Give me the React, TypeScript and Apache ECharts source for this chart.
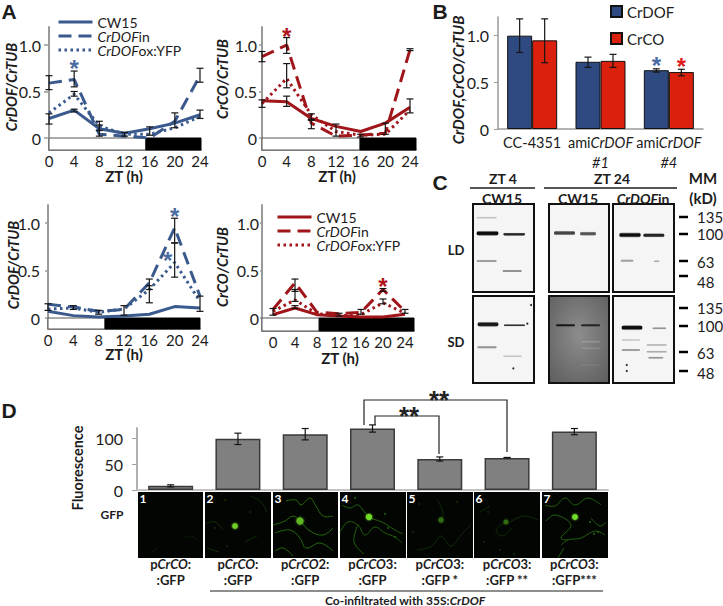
import React, { useEffect, useRef } from "react";
import * as echarts from "echarts";

const FONT = "Lato, 'Open Sans', sans-serif";
const INK = "#1c1c1c";
const BLUE = "#3a5a8e";
const RED = "#a01519";
const SOLID = "solid";
const DASH = [13, 7];
const DOT = [2.5, 3.5];

const ztHours = [0, 4, 8, 12, 16, 20, 24];

// Panel A, long day, CrDOF
const a1Cw15 = [0.21, 0.3, 0.1, 0.05, 0.1, 0.16, 0.25];
const a1In = [0.59, 0.63, 0.04, 0.02, 0.0, 0.18, 0.67];
const a1Ox = [0.27, 0.47, 0.13, 0.04, 0.04, 0.11, 0.23];
const a1Err = [[0, 0.15, 0.26], [0, 0.52, 0.67], [4, 0.55, 0.72], [4, 0.45, 0.5], [4, 0.28, 0.31], [8, 0.02, 0.14], [8, 0.08, 0.18], [12, 0.02, 0.06], [16, 0.03, 0.12], [20, 0.11, 0.27], [24, 0.21, 0.3], [24, 0.6, 0.75]];
const a1Stars = [[4, 0.8]];

// Panel A, long day, CrCO
const a2Cw15 = [0.4, 0.39, 0.21, 0.125, 0.07, 0.16, 0.33];
const a2In = [0.875, 1.0, 0.16, 0.02, 0.03, 0.05, 0.95];
const a2Ox = [0.37, 0.64, 0.25, 0.07, 0.03, 0.04, 0.3];
const a2Err = [[0, 0.33, 0.41], [0, 0.82, 0.93], [4, 0.91, 1.08], [4, 0.54, 0.8], [4, 0.34, 0.45], [8, 0.19, 0.26], [8, 0.1, 0.2], [12, 0.02, 0.15], [16, 0.01, 0.04], [20, 0.04, 0.16], [24, 0.27, 0.42], [24, 0.94, 0.96]];
const a2Stars = [[4, 1.15]];

// Panel A, short day, CrDOF
const a3Cw15 = [0.07, 0.025, 0.01, 0.02, 0.04, 0.12, 0.105];
const a3In = [0.145, 0.115, 0.07, 0.09, 0.37, 0.95, 0.23];
const a3Ox = [0.095, 0.105, 0.06, 0.095, 0.3, 0.585, 0.175];
const a3Err = [[0, 0.08, 0.15], [4, 0.09, 0.13], [8, 0.04, 0.08], [12, 0.03, 0.13], [16, 0.16, 0.41], [16, 0.3, 0.34], [20, 0.79, 1.05], [20, 0.43, 0.79], [24, 0.07, 0.23]];
const a3Stars = [[20, 1.12], [18.9, 0.66]];

// Panel A, short day, CrCO
const a4Cw15 = [0.035, 0.105, 0.035, 0.02, 0.01, 0.01, 0.04];
const a4In = [0.09, 0.37, 0.06, 0.045, 0.06, 0.3, 0.07];
const a4Ox = [0.07, 0.19, 0.045, 0.025, 0.035, 0.16, 0.05];
const a4Err = [[0, 0.03, 0.1], [4, 0.28, 0.41], [4, 0.175, 0.3], [4, 0.1, 0.13], [12, 0.02, 0.05], [16, 0.04, 0.09], [20, 0.28, 0.31], [20, 0.15, 0.2], [24, 0.05, 0.09]];
const a4Stars = [[20, 0.38]];

// Panel B
const bCategories = ["CC-4351", "amiCrDOF\n#1", "amiCrDOF\n#4"];
const bCrDof = [1.0, 0.72, 0.63];
const bCrCo = [0.95, 0.73, 0.61];
const bCrDofErr = [[0, 0.82, 1.18], [1, 0.66, 0.77], [2, 0.61, 0.645]];
const bCrCoErr = [[0, 0.71, 1.18], [1, 0.66, 0.8], [2, 0.57, 0.64]];
const bStarsDof = [[2, 0.73]];
const bStarsCo = [[2, 0.72]];

// Panel D
const dCategories = ["pCrCO:\n:GFP", "pCrCO:\n:GFP", "pCrCO2:\n:GFP", "pCrCO3:\n:GFP", "pCrCO3:\n:GFP *", "pCrCO3:\n:GFP **", "pCrCO3:\n:GFP***"];
const dValues = [8, 99, 108, 119, 60, 62, 113];
const dErr = [[0, 6, 10], [1, 88, 110], [2, 97, 119], [3, 112, 126], [4, 56, 64], [5, 62, 63], [6, 107, 119]];

const yTicksA = [0, 0.5, 1];
const yTicksD = [0, 50, 100];

const fmtY = (v: number) => (v === 0 ? "0" : v.toFixed(1));

function errorSeries(data: number[][], gridIdx: number, offset = 0, cap = 3.5) {
  return {
    type: "custom", xAxisIndex: gridIdx, yAxisIndex: gridIdx, silent: true, clip: false, z: 6,
    encode: { x: 0, y: [1, 2] }, data,
    renderItem: (_: any, api: any) => {
      const lo = api.coord([api.value(0), api.value(1)]);
      const hi = api.coord([api.value(0), api.value(2)]);
      const x = lo[0] + offset;
      const style = { stroke: "#151515", lineWidth: 1.2, fill: "none" };
      return {
        type: "group",
        children: [
          { type: "line", shape: { x1: x, y1: lo[1], x2: x, y2: hi[1] }, style },
          { type: "line", shape: { x1: x - cap, y1: lo[1], x2: x + cap, y2: lo[1] }, style },
          { type: "line", shape: { x1: x - cap, y1: hi[1], x2: x + cap, y2: hi[1] }, style },
        ],
      };
    },
  };
}

function starSeries(data: number[][], gridIdx: number, color: string, offset = 0) {
  return {
    type: "custom", xAxisIndex: gridIdx, yAxisIndex: gridIdx, silent: true, clip: false, z: 7,
    encode: { x: 0, y: 1 }, data,
    renderItem: (_: any, api: any) => {
      const p = api.coord([api.value(0), api.value(1)]);
      return {
        type: "text",
        style: { x: p[0] + offset, y: p[1] + 5, text: "*", fill: color, font: "bold 24px 'Liberation Sans'", align: "center", verticalAlign: "middle" },
      };
    },
  };
}

type Geo = { L: number; R: number; x0: number; x24: number; top: number; y0: number; y1: number; bot: number; strip: number; margin: number; tick: number };
const geoA1: Geo = { L: 49, R: 201, x0: 49, x24: 200, top: 27, y0: 138, y1: 45, bot: 150, strip: 15.4, margin: 8, tick: 5 };
const geoA2: Geo = { L: 262, R: 416, x0: 262, x24: 410, top: 27, y0: 138, y1: 45, bot: 150, strip: 15.9, margin: 5, tick: 3 };
const geoA3: Geo = { L: 48, R: 200, x0: 48, x24: 200, top: 205, y0: 318, y1: 223, bot: 329, strip: 9, margin: 8, tick: 3 };
const geoA4: Geo = { L: 262, R: 414, x0: 273, x24: 405, top: 205, y0: 318, y1: 223, bot: 331, strip: 8.4, margin: 3, tick: 2 };

function timePanel(idx: number, g: Geo, color: string, cw: number[], inn: number[], ox: number[], err: number[][], stars: number[][]) {
  const k = (g.x24 - g.x0) / 24;
  const xMin = (g.L - g.x0) / k;
  const xMax = (g.R - g.x0) / k;
  const u = g.y0 - g.y1;
  const yMin = -(g.bot - g.y0) / u;
  const yMax = (g.y0 - g.top) / u;
  const axisLine = { show: true, onZero: false, lineStyle: { color: "#9a9a9a", width: 2 } };
  const line = (name: string, vals: number[], type: any, extra = {}) => ({
    type: "line", name, xAxisIndex: idx, yAxisIndex: idx, showSymbol: false, symbol: "none", silent: true, clip: false, z: 4,
    data: ztHours.map((h, i) => [h, vals[i]]),
    lineStyle: { color, width: 3, type, cap: "butt" }, itemStyle: { color }, ...extra,
  });
  return {
    grid: { left: g.L, top: g.top, width: g.R - g.L, height: g.bot - g.top },
    xAxis: {
      type: "value", gridIndex: idx, min: xMin, max: xMax, splitLine: { show: false },
      axisLine, axisTick: { show: false },
      axisLabel: { customValues: ztHours, margin: 3, color: INK, fontSize: 15, fontFamily: FONT, formatter: (v: number) => String(v) },
    },
    yAxis: {
      type: "value", gridIndex: idx, min: yMin, max: yMax, splitLine: { show: false },
      axisLine, axisTick: { show: true, length: g.tick, customValues: yTicksA, lineStyle: { color: "#9a9a9a", width: 1.5 } },
      axisLabel: { customValues: yTicksA, margin: g.margin, color: INK, fontSize: 16, fontFamily: FONT, formatter: fmtY },
    },
    series: [
      line("CrDOFin", inn, DASH, {
        markArea: {
          silent: true, z: 1,
          data: [
            [{ xAxis: xMin, yAxis: yMin, itemStyle: { color: "#ffffff", borderColor: "#555", borderWidth: 1 } }, { xAxis: g.strip, yAxis: 0 }],
            [{ xAxis: g.strip, yAxis: yMin, itemStyle: { color: "#000000", borderColor: "#000", borderWidth: 1 } }, { xAxis: xMax, yAxis: 0 }],
          ],
        },
      }),
      line("CrDOFox:YFP", ox, DOT),
      line("CW15", cw, SOLID),
      errorSeries(err, idx),
      starSeries(stars, idx, color === BLUE ? "#4a6ca3" : "#b0141c"),
    ],
  };
}

const legendFormatter = (n: string) =>
  n === "CW15" ? n : n.startsWith("CrDOF") ? `{i|CrDOF}{n|${n.slice(5)}}` : n;

function lineLegend(left: number, top: number, color: string) {
  const item = (name: string, type: any) => ({ name, lineStyle: { color, type, width: 3 }, itemStyle: { color, opacity: 0 } });
  return {
    show: true, left, top, padding: 0, orient: "vertical", itemWidth: 34, itemHeight: 13.5, itemGap: 0, selectedMode: false,
    data: [item("CW15", SOLID), item("CrDOFin", DASH), item("CrDOFox:YFP", DOT)],
    formatter: legendFormatter,
    textStyle: {
      color: INK, fontSize: 14, lineHeight: 13.5, fontFamily: FONT,
      rich: {
        i: { fontStyle: "italic", fontSize: 14, lineHeight: 13.5, fontFamily: FONT, color: INK },
        n: { fontSize: 14, lineHeight: 13.5, fontFamily: FONT, color: INK },
      },
    },
  };
}

/* ---------- non-data drawing: labels, blots, micrographs ---------- */
function txt(text: string, x: number, y: number, o: any = {}) {
  return {
    type: "text", x, y, rotation: o.rot ?? 0, z: 20, silent: true,
    style: {
      text, fill: o.fill ?? INK, font: `${o.italic ? "italic " : ""}${o.weight ?? "normal"} ${o.size ?? 14}px ${o.family ?? FONT}`,
      align: o.align ?? "center", verticalAlign: "middle", rich: o.rich,
    },
  };
}
const ROT = Math.PI / 2;
const vName = (t: string, x: number, y: number, size = 14.5) => txt(t, x, y, { rot: ROT, size, weight: "bold", italic: true });
const zt = (x: number, y: number) => txt("ZT (h)", x, y, { size: 15, weight: "bold" });
const hline = (x1: number, x2: number, y: number, w = 1.5, c = INK) => ({ type: "line", z: 20, silent: true, shape: { x1, y1: y, x2, y2: y }, style: { stroke: c, lineWidth: w } });

// blot bands in [x1, y, x2, thickness, opacity]; reference-crop units (origin 430,165, 3x)
const blotBands = [
  [140, 205, 205, 11, 0.95], [220, 208, 285, 7, 0.85], [140, 158, 200, 3, 0.2], [140, 288, 200, 6, 0.35], [218, 318, 275, 5, 0.4],
  [372, 204, 435, 10, 0.72], [450, 206, 498, 9, 0.65],
  [568, 210, 632, 11, 0.95], [640, 211, 703, 9, 0.85], [572, 287, 610, 6, 0.35], [672, 289, 688, 4, 0.3],
  [143, 478, 205, 11, 0.9], [222, 481, 285, 5, 0.8], [142, 547, 200, 6, 0.4], [220, 574, 275, 2, 0.2],
  [378, 481, 435, 6, 0.8], [453, 481, 510, 6, 0.7],
  [575, 488, 637, 11, 0.95], [668, 490, 708, 4, 0.4], [575, 525, 630, 3, 0.15], [575, 555, 630, 5, 0.35], [650, 540, 710, 3, 0.22], [650, 560, 710, 4, 0.3], [655, 578, 700, 4, 0.4],
];
const blotLightBands = [[455, 530, 510, 5, 0.18], [455, 550, 510, 4, 0.15], [455, 600, 510, 3, 0.1]];
const blotSpots = [[590, 600], [590, 618], [250, 610], [303, 420], [292, 476]];
const blotFrames = [
  [473, 204, 61, 88], [549, 204, 60, 88], [613, 204, 61, 88],
  [473, 296, 61, 87], [549, 296, 60, 87], [613, 296, 61, 87],
];
const mmTicks = [[217, "135"], [234, "100"], [261, "63"], [276, "48"], [308, "135"], [326, "100"], [352, "63"], [371, "48"]] as [number, string][];
const mmLabelY = [217, 234, 262, 282, 308, 326, 353, 373];

// micrographs: left edge, curves in local px, nucleus [u, v, r, colour], curve colour, faint dots
const micrographs: any[] = [
  { x: 138, w: 65, c: "#0a1c05", curves: [[[46, 46], [52, 44], [60, 48]], [[14, 60], [20, 56]]], n: null, d: [] },
  { x: 205, w: 66, c: "#113007", curves: [[[0, 32], [10, 30], [18, 38]], [[46, 4], [56, 10], [62, 20]], [[2, 56], [14, 60]], [[40, 50], [52, 44]]], n: [30, 34, 2.8, "#6fd028"], d: [[20, 8], [10, 36], [45, 20], [22, 54]] },
  { x: 273, w: 65, c: "#266a0c", curves: [[[13, 9], [23, 8], [28, 13], [37, 6], [43, 14], [50, 24], [60, 24]], [[0, 33], [12, 29], [20, 24], [27, 29], [37, 39], [50, 43], [60, 36]], [[2, 41], [17, 38], [27, 46], [33, 56], [47, 51], [60, 59]], [[2, 59], [10, 56], [20, 64]]], n: [27, 29, 3.6, "#5fb822"], d: [] },
  { x: 340, w: 66, c: "#22600c", curves: [[[2, 13], [10, 16], [18, 13], [29, 25], [42, 30], [55, 38], [63, 42]], [[0, 40], [8, 30], [18, 33], [25, 43], [35, 35], [45, 41], [55, 45], [62, 51]], [[18, 33], [14, 50], [24, 62]]], n: [29, 25, 3.2, "#6fdc28"], d: [[48, 36], [55, 45], [15, 6], [45, 22]] },
  { x: 407, w: 66, c: "#0f2c07", curves: [[[10, 58], [20, 56], [26, 53], [34, 44], [44, 54], [54, 43], [64, 33]], [[30, 8], [36, 20], [34, 28]]], n: [34, 28, 2.6, "#326e12"], d: [[6, 40], [12, 12], [50, 10]] },
  { x: 474, w: 66, c: "#0f2c07", curves: [[[32, 30], [22, 38], [28, 44], [38, 36]], [[36, 30], [50, 24], [64, 28]], [[6, 20], [16, 14]]], n: [32, 30, 2.4, "#326e12"], d: [[14, 20], [26, 58], [40, 62], [10, 50]] },
  { x: 542, w: 66, c: "#22600c", curves: [[[3, 13], [13, 14], [23, 6], [33, 13], [46, 6], [59, 13]], [[4, 29], [13, 23], [29, 33], [19, 46], [26, 48]], [[19, 53], [26, 48], [39, 46], [53, 39], [63, 43]], [[49, 26], [58, 34], [64, 30]], [[16, 66], [22, 56]]], n: [33, 25, 2.9, "#6fdc28"], d: [[52, 42], [56, 40], [48, 30]] },
];

function blotGraphics() {
  const out: any[] = [];
  const zx = (v: number) => 430 + v / 3;
  const zy = (v: number) => 165 + v / 3;
  blotFrames.forEach(([x, y, w, h], i) => {
    const dark = i === 4;
    out.push({
      type: "rect", z: 10, silent: true, shape: { x, y, width: w, height: h },
      style: {
        fill: dark ? new echarts.graphic.RadialGradient(0.5, 0.45, 0.7, [{ offset: 0, color: "#8d8d8d" }, { offset: 1, color: "#5f5f5f" }]) : "#f5f5f5",
        stroke: "#111", lineWidth: 2,
      },
    });
  });
  blotBands.forEach(([a, y, b, t, o]) => {
    const h = Math.max(2.5, (t / 3) * 1.5);
    out.push({
      type: "rect", z: 11, silent: true,
      shape: { x: zx(a), y: zy(y) - h / 2, width: (b - a) / 3, height: h, r: h / 2 },
      style: {
        opacity: o,
        fill: new echarts.graphic.LinearGradient(0, 0, 0, 1, [
          { offset: 0, color: "rgba(0,0,0,0.05)" }, { offset: 0.3, color: "rgba(0,0,0,1)" },
          { offset: 0.7, color: "rgba(0,0,0,1)" }, { offset: 1, color: "rgba(0,0,0,0.05)" },
        ]),
      },
    });
  });
  blotLightBands.forEach(([a, y, b, t, o]) => out.push({
    type: "rect", z: 11, silent: true,
    shape: { x: zx(a), y: zy(y) - t / 6, width: (b - a) / 3, height: t / 3 },
    style: { fill: "#fff", opacity: o },
  }));
  blotSpots.forEach(([a, b]) => out.push({
    type: "circle", z: 11, silent: true, shape: { cx: zx(a), cy: zy(b), r: 1 }, style: { fill: "#222" },
  }));
  mmTicks.forEach(([y]) => out.push(hline(679, 688, y, 2.5, "#000")));
  mmTicks.forEach(([, t], i) => out.push(txt(t, 697, mmLabelY[i], { align: "left", size: 15 })));
  const boldI = { i: { fontStyle: "italic", fontWeight: "bold", fontSize: 14, fontFamily: FONT, fill: INK }, b: { fontWeight: "bold", fontSize: 14, fontFamily: FONT, fill: INK } };
  out.push(
    txt("ZT 4", 503, 178, { weight: "bold", size: 14 }), hline(470, 535, 188),
    txt("ZT 24", 612, 178, { weight: "bold", size: 14 }), hline(544, 677, 188),
    txt("CW15", 502, 198, { weight: "bold", size: 14 }), txt("CW15", 578, 198, { weight: "bold", size: 14 }),
    txt("{i|CrDOF}{b|in}", 643, 198, { weight: "bold", size: 14, rich: boldI }),
    txt("MM", 703, 178, { weight: "bold", size: 15 }), txt("(kD)", 703, 198, { weight: "bold", size: 15 }),
    txt("LD", 456, 250, { weight: "bold", size: 13 }), txt("SD", 456, 342, { weight: "bold", size: 13 }),
  );
  return out;
}

function micrographGraphics() {
  const out: any[] = [];
  micrographs.forEach((m, i) => {
    out.push({ type: "rect", z: 10, silent: true, shape: { x: m.x, y: 492, width: m.w, height: 66 }, style: { fill: "#030503" } });
    m.curves.forEach((c: number[][]) => out.push({
      type: "polyline", z: 11, silent: true,
      shape: { points: c.map(([u, v]) => [m.x + u, 492 + v]), smooth: 0.4 },
      style: { stroke: m.c, lineWidth: 1, fill: "none" },
    }));
    m.d.forEach(([u, v]: number[]) => out.push({
      type: "circle", z: 11, silent: true, shape: { cx: m.x + u, cy: 492 + v, r: 1 }, style: { fill: m.c },
    }));
    if (m.n) out.push({
      type: "circle", z: 12, silent: true, shape: { cx: m.x + m.n[0], cy: 492 + m.n[1], r: m.n[2] },
      style: { fill: m.n[3], shadowBlur: 2, shadowColor: m.n[3] },
    });
    out.push(txt(String(i + 1), m.x + 5, 498, { fill: "#fff", weight: "bold", size: 12 }));
  });
  return out;
}

function bracket(pts: number[][]) {
  return { type: "polyline", z: 20, silent: true, shape: { points: pts }, style: { stroke: "#222", lineWidth: 1.2, fill: "none" } };
}

export default function App() {
  const ref = useRef<HTMLDivElement>(null);
  useEffect(() => {
    const chart = echarts.init(ref.current!, undefined, { renderer: "svg" });

    const panels = [
      timePanel(0, geoA1, BLUE, a1Cw15, a1In, a1Ox, a1Err, a1Stars),
      timePanel(1, geoA2, RED, a2Cw15, a2In, a2Ox, a2Err, a2Stars),
      timePanel(2, geoA3, BLUE, a3Cw15, a3In, a3Ox, a3Err, a3Stars),
      timePanel(3, geoA4, RED, a4Cw15, a4In, a4Ox, a4Err, a4Stars),
    ];

    const greyAxis = { show: true, onZero: false, lineStyle: { color: "#9a9a9a", width: 1.5 } };
    const richB = { i: { fontStyle: "italic", fontSize: 14.5, fontFamily: FONT, color: INK, lineHeight: 20 } };

    const gridB = { left: 498, top: 17, width: 205, height: 112 };
    const xB = {
      type: "category", gridIndex: 4, data: bCategories, axisLine: greyAxis, axisTick: { show: false },
      axisLabel: {
        interval: 0, margin: 3, color: INK, fontSize: 14.5, fontFamily: FONT, lineHeight: 20, rich: richB,
        formatter: (s: string) => s.replace("CrDOF", "{i|CrDOF}").replace(/#(\d)/, "{i|#$1}"),
      },
    };
    const yB = {
      type: "value", gridIndex: 4, min: 0, max: 1.2, splitLine: { show: false }, axisLine: greyAxis,
      axisTick: { show: true, length: 4, customValues: yTicksA, lineStyle: { color: "#9a9a9a" } },
      axisLabel: { customValues: yTicksA, margin: 9, color: INK, fontSize: 16, fontFamily: FONT, formatter: fmtY },
    };
    const barB = (name: string, data: number[], color: string) => ({
      type: "bar", name, xAxisIndex: 4, yAxisIndex: 4, data, barWidth: 25, barGap: 0, silent: true, z: 3,
      itemStyle: { color, borderColor: "#111", borderWidth: 1 },
    });

    const gridD = { left: 137, top: 428, width: 471, height: 62 };
    const richD = { i: { fontStyle: "italic", fontWeight: "bold", fontSize: 13, fontFamily: FONT, color: INK, lineHeight: 16 } };
    const xD = {
      type: "category", gridIndex: 5, data: dCategories,
      axisLine: { show: true, onZero: false, lineStyle: { color: "#c4c4c4", width: 2 } }, axisTick: { show: false },
      axisLabel: {
        interval: 0, margin: 66, color: INK, fontSize: 13, fontWeight: "bold", fontFamily: FONT, lineHeight: 16, rich: richD,
        formatter: (s: string) => s.replace("CrCO", "{i|CrCO}"),
      },
    };
    const yD = {
      type: "value", gridIndex: 5, min: 0, max: 120, splitLine: { show: false },
      axisLine: { show: true, onZero: false, lineStyle: { color: "#b0b0b0", width: 2 } },
      axisTick: { show: true, length: 5, customValues: yTicksD, lineStyle: { color: "#a0a0a0" } },
      axisLabel: { customValues: yTicksD, margin: 14, color: INK, fontSize: 16, fontFamily: FONT },
    };

    const graphicEls: any[] = [
      txt("A", 9, 11, { weight: "bold", size: 21, family: "'Liberation Sans'" }),
      txt("B", 440, 11, { weight: "bold", size: 21, family: "'Liberation Sans'" }),
      txt("C", 440, 182, { weight: "bold", size: 21, family: "'Liberation Sans'" }),
      txt("D", 9, 410, { weight: "bold", size: 21, family: "'Liberation Sans'" }),
      vName("CrDOF/CrTUB", 11, 87), vName("CrCO/CrTUB", 222, 79),
      vName("CrDOF/CrTUB", 13, 265), vName("CrCO/CrTUB", 222, 267),
      vName("CrDOF,CrCO/CrTUB", 458, 80, 15),
      zt(124, 176), zt(337, 176), zt(124, 354), zt(340, 358),
      ...blotGraphics(),
      ...micrographGraphics(),
      txt("Fluorescence", 77, 468, { rot: ROT, size: 14.5, weight: "bold" }),
      txt("GFP", 112, 514, { size: 12, weight: "bold" }),
      bracket([[364, 425], [364, 400], [507, 400], [507, 452]]),
      bracket([[375, 425], [375, 416], [439, 416], [439, 454]]),
      txt("**", 439, 400, { size: 26, weight: "bold", family: "'Liberation Sans'", fill: "#222" }),
      txt("**", 409, 416, { size: 26, weight: "bold", family: "'Liberation Sans'", fill: "#222" }),
      hline(210, 603, 591, 1.2),
      txt("Co-infiltrated with 35S:{i|CrDOF}", 405, 600, {
        size: 12, weight: "bold",
        rich: { i: { fontStyle: "italic", fontWeight: "bold", fontSize: 12, fontFamily: FONT, fill: INK } },
      }),
    ];

    chart.setOption({
      animation: false,
      backgroundColor: "#ffffff",
      textStyle: { fontFamily: FONT },
      grid: [...panels.map((p) => p.grid), gridB, gridD],
      xAxis: [...panels.map((p) => p.xAxis), xB, xD],
      yAxis: [...panels.map((p) => p.yAxis), yB, yD],
      legend: [
        lineLegend(57, 15, BLUE),
        lineLegend(276, 210, RED),
        {
          show: true, left: 610, top: 4, padding: 0, orient: "vertical", icon: "rect", itemWidth: 11, itemHeight: 11, itemGap: 12, selectedMode: false,
          data: ["CrDOF", "CrCO"],
          textStyle: { color: INK, fontSize: 15, lineHeight: 11, fontFamily: FONT },
        },
      ],
      series: [
        ...panels.flatMap((p) => p.series),
        barB("CrDOF", bCrDof, "#2e4a80"),
        barB("CrCO", bCrCo, "#dc200e"),
        errorSeries(bCrDofErr, 4, -12.5),
        errorSeries(bCrCoErr, 4, 12.5),
        starSeries(bStarsDof, 4, "#4a6ca3", -12.5),
        starSeries(bStarsCo, 4, "#e01a1a", 12.5),
        {
          type: "bar", name: "Fluorescence", xAxisIndex: 5, yAxisIndex: 5, data: dValues, barWidth: 45, silent: true, z: 3,
          itemStyle: { color: "#808080", borderColor: "#3a3a3a", borderWidth: 1.5 },
        },
        errorSeries(dErr, 5),
      ],
      graphic: { elements: graphicEls },
    });
    return () => chart.dispose();
  }, []);
  return <div ref={ref} style={{ position: "absolute", left: 0, top: 0, width: 723, height: 606 }} />;
}
